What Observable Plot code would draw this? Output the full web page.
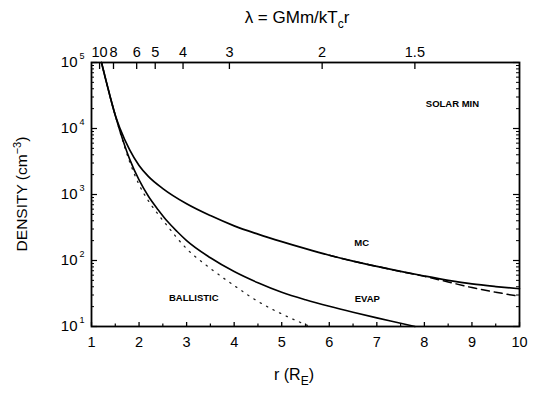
<!DOCTYPE html>
<html>
<head>
<meta charset="utf-8">
<script src="https://cdn.jsdelivr.net/npm/d3@7"></script>
<script src="https://cdn.jsdelivr.net/npm/@observablehq/plot@0.6"></script>
<style>
  html, body { margin: 0; padding: 0; background: #fff; }
  #chart svg { display: block; }
</style>
</head>
<body>
<div id="chart"></div>
<script>
// ---- data ----
const mcR       = [1.21, 1.3, 1.4, 1.5, 1.6, 1.8, 2.0, 2.2, 2.5, 3.0, 3.5, 4.0, 4.5, 5.0, 5.5, 6.0, 6.5, 7.0, 7.5, 8.0, 8.5, 9.0, 9.5, 10];
const mcDensity = [100000, 54950, 28840, 15850, 10000, 4786, 2754, 1862, 1230, 724, 479, 335, 251, 193, 151, 120, 97.7, 81.3, 68.4, 58.2, 50.1, 44.2, 40.3, 37.3];

const mcAltR       = [6.0, 6.5, 7.0, 7.5, 8.0, 8.5, 9.0, 9.5, 10];
const mcAltDensity = [120, 97.7, 81.3, 68, 57.5, 47.3, 38.9, 33.1, 28.6];

const evapR       = [1.21, 1.3, 1.4, 1.5, 1.6, 1.8, 2.0, 2.2, 2.4, 2.6, 2.8, 3.0, 3.5, 4.0, 4.5, 5.0, 5.5, 6.0, 6.5, 7.0, 7.5, 7.8];
const evapDensity = [100000, 55000, 28800, 15800, 9100, 3470, 1660, 933, 589, 389, 275, 200, 110, 68, 46, 33, 25.4, 20.2, 16.4, 13.5, 11.2, 10];

const ballR       = [1.21, 1.3, 1.4, 1.5, 1.6, 1.8, 2.0, 2.2, 2.4, 2.6, 2.8, 3.0, 3.5, 4.0, 4.5, 5.0, 5.5, 5.6];
const ballDensity = [100000, 55000, 28800, 15800, 8900, 3160, 1410, 794, 501, 331, 219, 151, 76, 41.7, 24, 15.5, 10.7, 10];

const xTickValues      = [1, 2, 3, 4, 5, 6, 7, 8, 9, 10];
const xMinorTickValues = [1.5, 2.5, 3.5, 4.5, 5.5, 6.5, 7.5, 8.5, 9.5];
const yTickValues      = [10, 100, 1000, 10000, 100000];
const lambdaTickValues = [10, 8, 6, 5, 4, 3, 2, 1.5];
const lambdaScale = 11.7; // lambda = lambdaScale / r

const labelTexts = ["SOLAR MIN", "MC", "EVAP", "BALLISTIC"];

// ---- build tables ----
const rows = (rs, ns) => rs.map((r, i) => ({r, n: ns[i]}));
const mc = rows(mcR, mcDensity);
const mcAlt = rows(mcAltR, mcAltDensity);
const evap = rows(evapR, evapDensity);
const ball = rows(ballR, ballDensity);
const yMinor = [];
for (let e = 1; e < 5; e++) for (let k = 2; k <= 9; k++) yMinor.push(k * 10 ** e);
const lambdaR = lambdaTickValues.map(l => lambdaScale / l);
const sup = {1: "¹", 2: "²", 3: "³", 4: "⁴", 5: "⁵"};

const W = 539, H = 394, mL = 91, mR = 20, mT = 62, mB = 68;
const innerW = W - mL - mR, innerH = H - mT - mB;
const font = "'Liberation Sans', Arial, Helvetica, sans-serif";

const plot = Plot.plot({
  width: W, height: H,
  marginLeft: mL, marginRight: mR, marginTop: mT, marginBottom: mB,
  style: {fontFamily: font, background: "#fff", color: "#000"},
  x: {domain: [1, 10]},
  y: {type: "log", domain: [10, 1e5]},
  marks: [
    Plot.axisX(xTickValues, {anchor: "bottom", tickSize: 0, tickPadding: 10, fontSize: 14.5, label: null, tickFormat: d => String(d)}),
    Plot.axisX(lambdaR, {anchor: "top", tickSize: 0, tickPadding: 6, fontSize: 14.5, label: null,
      tickFormat: d => String(+(lambdaScale / d).toFixed(2))}),
    Plot.axisY(yTickValues, {anchor: "left", tickSize: 0, tickPadding: 7, fontSize: 15, label: null,
      tickFormat: d => "10" + sup[Math.round(Math.log10(d))]}),
    // inward ticks
    Plot.ruleX(xTickValues, {insetTop: innerH - 4, strokeWidth: 1.3}),
    Plot.ruleX(xMinorTickValues, {insetTop: innerH - 2.5, strokeWidth: 1.2}),
    Plot.ruleX(lambdaR, {insetBottom: innerH - 7, strokeWidth: 1.3}),
    Plot.ruleY(yTickValues, {insetRight: innerW - 6, strokeWidth: 1.2}),
    Plot.ruleY(yMinor, {insetRight: innerW - 3, strokeWidth: 1}),
    Plot.ruleY(yTickValues, {insetLeft: innerW - 6, strokeWidth: 1.2}),
    Plot.ruleY(yMinor, {insetLeft: innerW - 3, strokeWidth: 1}),
    // curves
    Plot.line(ball, {x: "r", y: "n", curve: "monotone-x", stroke: "#222", strokeWidth: 1.3, strokeDasharray: "1.3 6", strokeLinecap: "round"}),
    Plot.line(mcAlt, {x: "r", y: "n", curve: "monotone-x", stroke: "#000", strokeWidth: 1.5, strokeDasharray: "8 5"}),
    Plot.line(evap, {x: "r", y: "n", curve: "monotone-x", stroke: "#000", strokeWidth: 1.6}),
    Plot.line(mc, {x: "r", y: "n", curve: "monotone-x", stroke: "#000", strokeWidth: 1.7}),
    // labels
    Plot.text([labelTexts[0]], {x: 8.59, y: 23400, text: d => d, fontSize: 9.5, fontWeight: "bold"}),
    Plot.text([labelTexts[1]], {x: 6.68, y: 182, text: d => d, fontSize: 9.5, fontWeight: "bold"}),
    Plot.text([labelTexts[2]], {x: 6.80, y: 25.7, text: d => d, fontSize: 9.5, fontWeight: "bold"}),
    Plot.text([labelTexts[3]], {x: 3.15, y: 26.9, text: d => d, fontSize: 9.5, fontWeight: "bold"}),
    Plot.frame({stroke: "#000", strokeWidth: 1.8})
  ]
});

document.getElementById("chart").appendChild(plot);

// superscripts on y tick labels
const svg = d3.select(plot);
svg.selectAll("text").each(function () {
  const t = this.textContent;
  const m = /^10([¹²³⁴⁵])$/.exec(t);
  if (m) {
    const digit = {"¹": "1", "²": "2", "³": "3", "⁴": "4", "⁵": "5"}[m[1]];
    const el = d3.select(this);
    el.text(null);
    el.append("tspan").text("10");
    el.append("tspan").attr("dx", 2).attr("dy", -8).attr("font-size", 9).text(digit);
  }
});

// top title
const title = svg.append("text")
  .attr("x", 297).attr("y", 23).attr("text-anchor", "middle")
  .attr("font-family", font).attr("font-size", 17).attr("fill", "#000");
title.append("tspan").text("λ = GMm/kT");
title.append("tspan").attr("dy", 5).attr("font-size", 12).text("c");
title.append("tspan").attr("dy", -5).text("r");

// x label
const xl = svg.append("text")
  .attr("x", 294).attr("y", 380).attr("text-anchor", "middle")
  .attr("font-family", font).attr("font-size", 16).attr("fill", "#000");
xl.append("tspan").text("r (R");
xl.append("tspan").attr("dy", 5).attr("font-size", 12).text("E");
xl.append("tspan").attr("dy", -5).text(")");

// y label
const yl = svg.append("text")
  .attr("transform", "translate(27,194) rotate(-90)").attr("text-anchor", "middle")
  .attr("font-family", font).attr("font-size", 15.5).attr("fill", "#000");
yl.append("tspan").text("DENSITY (cm");
yl.append("tspan").attr("dy", -6).attr("font-size", 11).text("−3");
yl.append("tspan").attr("dy", 6).text(")");
</script>
</body>
</html>
